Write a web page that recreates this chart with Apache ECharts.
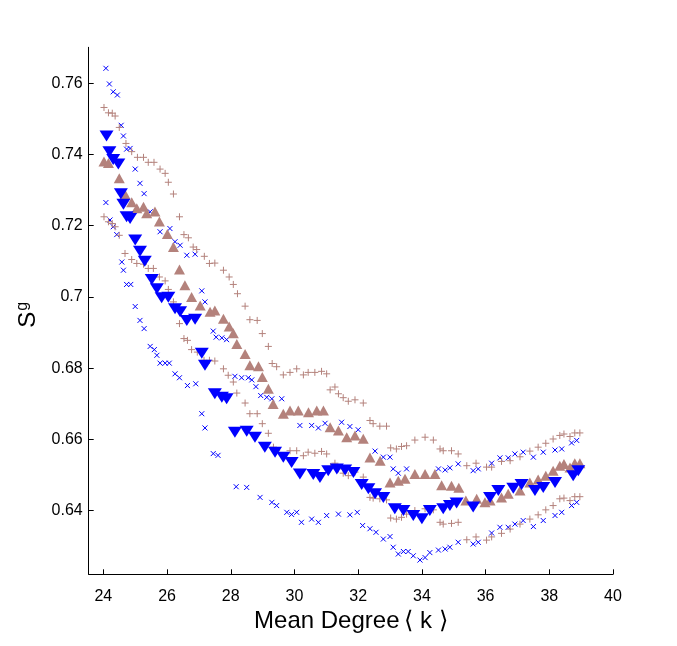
<!DOCTYPE html>
<html><head><meta charset="utf-8">
<script src="https://cdn.jsdelivr.net/npm/echarts@6/dist/echarts.min.js"></script>
<style>html,body{margin:0;padding:0;background:#fff}#c{width:677px;height:646px}</style>
</head><body><div id="c"></div>
<script>
const xTicks = [24,26,28,30,32,34,36,38,40];
const yTicks = [0.64,0.66,0.68,0.70,0.72,0.74,0.76];

const blueMeanX = [24.1,24.19,24.31,24.47,24.55,24.63,24.73,24.84,25.0,25.15,25.3,25.52,25.68,25.83,26.04,26.25,26.41,26.62,26.88,27.09,27.19,27.5,27.72,27.87,28.13,28.5,28.76,29.07,29.39,29.65,29.91,30.17,30.59,30.8,31.06,31.33,31.59,31.85,32.11,32.32,32.53,32.79,33.15,33.42,33.73,34.0,34.25,34.67,34.88,35.09,35.61,36.14,36.4,36.87,37.13,37.55,37.81,38.18,38.75,38.91];
const blueMeanY = [0.7452,0.7408,0.7386,0.7373,0.729,0.726,0.7225,0.722,0.7160,0.7128,0.710,0.7049,0.7023,0.6998,0.6999,0.6967,0.6958,0.6934,0.6937,0.6842,0.6808,0.6728,0.6718,0.6714,0.662,0.6623,0.6606,0.6578,0.6564,0.655,0.6535,0.6503,0.6501,0.6493,0.6512,0.6517,0.6514,0.6507,0.6473,0.6461,0.6447,0.6437,0.6405,0.640,0.6386,0.6377,0.640,0.6405,0.6414,0.6421,0.641,0.6437,0.6456,0.6463,0.6473,0.6456,0.6465,0.6479,0.6498,0.6512];

const brownMeanX = [24.02,24.16,24.5,24.68,24.89,25.05,25.26,25.36,25.62,25.76,26.01,26.2,26.39,26.56,26.77,27.04,27.35,27.5,27.77,27.95,28.08,28.19,28.45,28.6,28.87,28.99,29.18,29.33,29.65,29.86,30.12,30.44,30.7,30.91,31.12,31.38,31.64,31.9,32.16,32.37,32.69,33.0,33.26,33.47,33.78,34.1,34.41,34.62,34.93,35.16,35.38,35.72,35.98,36.14,36.5,36.71,37.08,37.39,37.65,37.89,38.12,38.33,38.46,38.65,38.8,38.96];
const brownMeanY = [0.738,0.7376,0.7333,0.7288,0.7266,0.7249,0.7253,0.7235,0.724,0.7212,0.7177,0.714,0.7077,0.7033,0.700,0.6976,0.6958,0.6962,0.6939,0.6917,0.6898,0.6868,0.684,0.6808,0.6805,0.6775,0.6742,0.6699,0.6672,0.6681,0.6681,0.6676,0.6681,0.6681,0.6634,0.6625,0.6606,0.6611,0.6602,0.6549,0.654,0.6479,0.6484,0.6489,0.6503,0.6503,0.6503,0.6471,0.647,0.6464,0.6428,0.6433,0.6423,0.6428,0.6437,0.6447,0.6456,0.6479,0.6487,0.6498,0.6512,0.6526,0.6531,0.6521,0.6533,0.6533];

const blueUpX = [24.08,24.19,24.31,24.44,24.56,24.63,24.73,24.84,25.0,25.15,25.28,25.47,25.78,26.09,26.25,26.41,26.62,26.88,27.09,27.19,27.45,27.54,27.72,27.87,28.13,28.34,28.55,28.66,28.79,28.94,29.13,29.29,29.6,30.17,30.54,30.75,30.96,31.48,31.74,32.0,32.53,32.79,33.0,33.1,33.26,33.52,34.52,34.73,34.88,35.14,35.61,35.77,36.19,36.45,36.71,36.92,37.18,37.5,37.81,38.18,38.39,38.7,38.86];
const blueUpY = [0.7642,0.7598,0.7576,0.7567,0.7482,0.7452,0.7415,0.7417,0.7359,0.7319,0.729,0.7239,0.7183,0.7192,0.7155,0.7145,0.7117,0.712,0.7017,0.6986,0.6904,0.6887,0.6885,0.688,0.6777,0.6773,0.6773,0.6767,0.6748,0.6723,0.6718,0.6714,0.6714,0.6639,0.6639,0.6632,0.6645,0.6648,0.6636,0.6627,0.6567,0.655,0.655,0.6517,0.6505,0.6517,0.6517,0.6514,0.652,0.6531,0.6512,0.6517,0.6533,0.6548,0.6548,0.6559,0.6564,0.655,0.6564,0.657,0.6573,0.659,0.6597];

const blueLowX = [24.08,24.21,24.31,24.42,24.58,24.63,24.73,24.86,25.0,25.15,25.28,25.47,25.6,25.68,25.78,25.94,26.07,26.25,26.39,26.64,26.9,27.09,27.19,27.45,27.6,28.17,28.5,28.92,29.29,29.44,29.76,29.91,30.07,30.22,30.54,30.75,31.01,31.38,31.74,31.97,32.14,32.37,32.56,32.79,33.0,33.1,33.26,33.42,33.57,33.73,33.94,34.1,34.25,34.52,34.73,34.88,35.14,35.61,35.77,36.19,36.45,36.71,36.92,37.18,37.5,37.81,38.18,38.39,38.7,38.86];
const blueLowY = [0.7265,0.7216,0.7197,0.7175,0.7098,0.7075,0.7035,0.7035,0.6973,0.6934,0.6911,0.6861,0.6852,0.6836,0.6814,0.6814,0.6814,0.6784,0.6773,0.6751,0.6756,0.6672,0.6632,0.656,0.6555,0.6467,0.6465,0.6437,0.6423,0.6414,0.6395,0.6389,0.6395,0.6367,0.6376,0.6367,0.6386,0.639,0.6388,0.6395,0.6358,0.6349,0.6339,0.632,0.6327,0.6297,0.6278,0.6285,0.6285,0.6273,0.6261,0.6268,0.6282,0.6289,0.6292,0.6297,0.6311,0.6306,0.6311,0.6337,0.6353,0.6353,0.6362,0.6372,0.6355,0.6372,0.6386,0.6395,0.6414,0.6423];

const brownUpX = [24.02,24.16,24.28,24.37,24.5,24.71,24.89,25.07,25.26,25.41,25.59,25.78,25.94,26.04,26.2,26.39,26.53,26.67,26.82,26.93,27.17,27.33,27.5,27.77,27.95,28.08,28.21,28.45,28.6,28.83,28.99,29.18,29.3,29.44,29.65,29.86,30.07,30.28,30.43,30.64,30.85,31.01,31.12,31.27,31.38,31.53,31.69,31.9,32.16,32.37,32.47,32.68,32.89,33.02,33.2,33.36,33.52,33.78,34.1,34.36,34.57,34.67,34.93,35.14,35.41,35.7,36.03,36.19,36.5,36.77,37.08,37.39,37.65,37.89,38.12,38.33,38.46,38.65,38.8,38.96];
const brownUpY = [0.7532,0.7517,0.7516,0.7508,0.7476,0.7431,0.7408,0.7392,0.7392,0.7378,0.7378,0.7359,0.7347,0.7322,0.7289,0.7225,0.7175,0.7166,0.714,0.7133,0.7114,0.7094,0.7095,0.7075,0.7056,0.7035,0.7009,0.6974,0.6936,0.6934,0.6897,0.6861,0.6813,0.6804,0.6781,0.6788,0.6798,0.6781,0.6788,0.6788,0.6791,0.6784,0.6739,0.6747,0.6728,0.6717,0.6707,0.6711,0.6702,0.6653,0.6644,0.6637,0.6637,0.6576,0.6573,0.658,0.6582,0.6598,0.6606,0.6598,0.6573,0.6568,0.6568,0.6559,0.6526,0.6533,0.6522,0.6522,0.6538,0.654,0.6551,0.6567,0.6578,0.6589,0.6601,0.6611,0.6615,0.6608,0.6618,0.6618];

const brownLowX = [24.02,24.16,24.28,24.37,24.5,24.68,24.89,25.05,25.26,25.41,25.57,25.76,25.94,26.04,26.2,26.39,26.53,26.64,26.77,26.95,27.16,27.33,27.5,27.77,27.92,28.08,28.19,28.45,28.6,28.83,28.99,29.18,29.34,29.44,29.65,29.86,30.07,30.28,30.43,30.64,30.85,31.01,31.14,31.27,31.38,31.53,31.69,31.9,32.16,32.37,32.47,32.68,32.89,33.02,33.2,33.36,33.52,33.78,34.1,34.36,34.57,34.67,34.93,35.14,35.41,35.7,36.03,36.19,36.5,36.77,37.08,37.39,37.65,37.89,38.12,38.33,38.46,38.65,38.8,38.96];
const brownLowY = [0.7225,0.7211,0.7206,0.7197,0.7173,0.7122,0.7105,0.7094,0.7092,0.708,0.708,0.7056,0.7045,0.7021,0.6986,0.6925,0.6883,0.6878,0.6852,0.6845,0.6822,0.6822,0.6820,0.6798,0.678,0.6761,0.673,0.6702,0.6672,0.6672,0.6644,0.6617,0.6578,0.6568,0.6554,0.6568,0.6568,0.6554,0.6564,0.6561,0.6566,0.6559,0.6524,0.6533,0.6517,0.6505,0.6498,0.6508,0.6494,0.6437,0.6435,0.6433,0.643,0.6379,0.6376,0.6381,0.639,0.640,0.6405,0.6402,0.6367,0.6362,0.6364,0.6367,0.6318,0.6326,0.6317,0.6326,0.6336,0.6348,0.6362,0.6376,0.6388,0.6402,0.6414,0.6433,0.6435,0.6428,0.6439,0.6439];

const BLUE = '#0000ff';
const BROWN = '#b4827c';
const pair = (xs, ys) => xs.map((x, i) => [x, ys[i]]);
const crossPath = 'path://M0,0 L10,10 M10,0 L0,10';
const plusPath = 'path://M5,0 L5,10 M0,5 L10,5';
const downTri = 'path://M0,0 L12,0 L6,10 Z';

function lineSeries(name, xs, ys, sym, size, color) {
  return {
    name, type: 'scatter', data: pair(xs, ys), symbol: sym, symbolSize: size,
    itemStyle: { color: 'rgba(0,0,0,0)', borderColor: color, borderWidth: 1, opacity: 1 },
    animation: false, silent: true
  };
}

const chart = echarts.init(document.getElementById('c'), null, { renderer: 'canvas' });
const axisFont = { fontFamily: 'Liberation Sans, Arial, sans-serif', fontSize: 16, color: '#000' };
chart.setOption({
  backgroundColor: '#fff',
  animation: false,
  grid: { left: 88.7, right: 64, top: 47.3, bottom: 71.7, containLabel: false },
  xAxis: {
    type: 'value', min: 23.54, max: 40,
    name: 'Mean Degree\u2009\u27E8 k \u27E9', nameLocation: 'middle', nameGap: 34,
    nameTextStyle: { fontFamily: 'Liberation Sans, Arial, sans-serif', fontSize: 24, color: '#000' },
    axisLine: { show: true, lineStyle: { color: '#000', width: 1 } },
    axisTick: { show: true, inside: true, length: 5, lineStyle: { color: '#000' }, customValues: xTicks },
    axisLabel: { show: true, margin: 14, ...axisFont, customValues: xTicks, formatter: v => String(v) },
    splitLine: { show: false }
  },
  yAxis: {
    type: 'value', min: 0.6221, max: 0.7701,
    name: '{s|S}{g|g}', nameLocation: 'middle', nameGap: 40, nameRotate: 90,
    nameTextStyle: {
      rich: {
        s: { fontFamily: 'Liberation Sans, Arial, sans-serif', fontSize: 24, color: '#000', lineHeight: 28 },
        g: { fontFamily: 'Liberation Sans, Arial, sans-serif', fontSize: 16, color: '#000', lineHeight: 28, verticalAlign: 'top', padding: [0, 8, 0, 1] }
      }
    },
    axisLine: { show: true, lineStyle: { color: '#000', width: 1 } },
    axisTick: { show: true, inside: true, length: 5, lineStyle: { color: '#000' }, customValues: yTicks },
    axisLabel: { show: true, margin: 6, ...axisFont, customValues: yTicks, formatter: v => String(+v.toFixed(2)) },
    splitLine: { show: false }
  },
  series: [
    lineSeries('blueUp', blueUpX, blueUpY, crossPath, 5, BLUE),
    lineSeries('blueLow', blueLowX, blueLowY, crossPath, 5, BLUE),
    lineSeries('brownUp', brownUpX, brownUpY, plusPath, 7, BROWN),
    lineSeries('brownLow', brownLowX, brownLowY, plusPath, 7, BROWN),
    { name: 'brownMean', type: 'scatter', data: pair(brownMeanX, brownMeanY), symbol: 'triangle', symbolSize: [11, 10],
      itemStyle: { color: BROWN, opacity: 1 }, silent: true },
    { name: 'blueMean', type: 'scatter', data: pair(blueMeanX, blueMeanY), symbol: downTri, symbolSize: [14, 11],
      itemStyle: { color: BLUE, opacity: 1 }, silent: true }
  ]
});
</script></body></html>
